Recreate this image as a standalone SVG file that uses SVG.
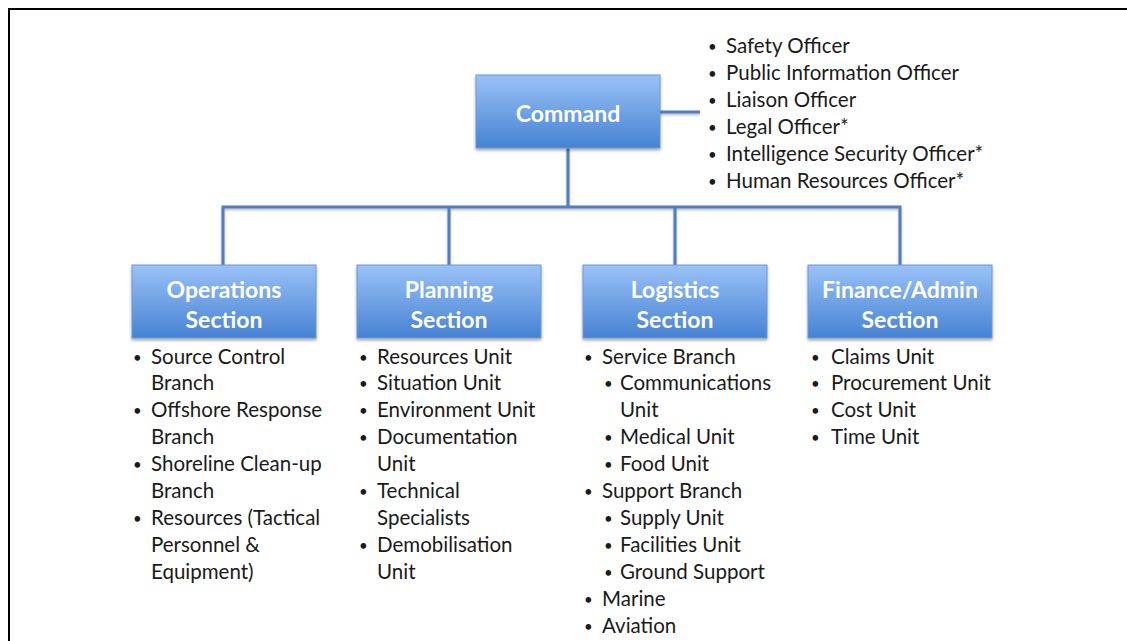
<svg xmlns="http://www.w3.org/2000/svg" width="1127" height="641" viewBox="0 0 1127 641">
  <defs>
    <linearGradient id="boxFill" x1="0" y1="0" x2="0" y2="1">
      <stop offset="0" stop-color="#9ac2f7"/>
      <stop offset="1" stop-color="#4682d3"/>
    </linearGradient>
    <filter id="shadow" x="-10%" y="-10%" width="120%" height="130%">
      <feDropShadow dx="0" dy="2" stdDeviation="1.5" flood-color="#000" flood-opacity="0.35"/>
    </filter>
    <filter id="lineShadow" filterUnits="userSpaceOnUse" x="0" y="0" width="1127" height="641">
      <feDropShadow dx="0" dy="1.5" stdDeviation="1" flood-color="#000" flood-opacity="0.3"/>
    </filter>
  </defs>
  <style>
    .box { fill: url(#boxFill); stroke: #6d9ad6; stroke-width: 1; filter: url(#shadow); }
    .title { font-family: Lato, "Open Sans", sans-serif; font-weight: bold; font-size: 23px; fill: #ffffff; text-anchor: middle; }
    .item { font-family: Lato, "Open Sans", sans-serif; font-size: 20.5px; fill: #1a1a1a; }
    .bul { font-size: 15px; }
    .conn { fill: none; stroke: #4f7fbf; stroke-width: 3; }
  </style>

  <rect width="1127" height="641" fill="#ffffff"/>
  <!-- page frame -->
  <path d="M9 641 V9 H1127" fill="none" stroke="#000" stroke-width="2"/>

  <g id="connectors" filter="url(#lineShadow)">
    <path class="conn" d="M660 112 H700"/>
    <path class="conn" d="M568 148 V207"/>
    <path class="conn" d="M223 265 V207 H900 V265"/>
    <path class="conn" d="M449 207 V265"/>
    <path class="conn" d="M675 207 V265"/>
  </g>

  <g id="command">
    <rect class="box" x="476" y="75" width="184" height="73"/>
    <text class="title" x="568" y="122">Command</text>
  </g>

  <g id="command-staff" class="item">
    <text class="bul" x="708" y="52">•</text><text x="726" y="53">Safety Officer</text>
    <text class="bul" x="708" y="79">•</text><text x="726" y="80">Public Information Officer</text>
    <text class="bul" x="708" y="106">•</text><text x="726" y="107">Liaison Officer</text>
    <text class="bul" x="708" y="133">•</text><text x="726" y="134">Legal Officer*</text>
    <text class="bul" x="708" y="160">•</text><text x="726" y="161">Intelligence Security Officer*</text>
    <text class="bul" x="708" y="187">•</text><text x="726" y="188">Human Resources Officer*</text>
  </g>

  <g id="operations">
    <rect class="box" x="132" y="265" width="184" height="73"/>
    <text class="title" x="224" y="298">Operations</text>
    <text class="title" x="224" y="328">Section</text>
    <g class="item">
      <text class="bul" x="133" y="363">•</text><text x="151" y="364">Source Control</text>
      <text x="151" y="390">Branch</text>
      <text class="bul" x="133" y="416">•</text><text x="151" y="417">Offshore Response</text>
      <text x="151" y="444">Branch</text>
      <text class="bul" x="133" y="470">•</text><text x="151" y="471">Shoreline Clean-up</text>
      <text x="151" y="498">Branch</text>
      <text class="bul" x="133" y="524">•</text><text x="151" y="525">Resources (Tactical</text>
      <text x="151" y="552">Personnel &amp;</text>
      <text x="151" y="579">Equipment)</text>
    </g>
  </g>

  <g id="planning">
    <rect class="box" x="357" y="265" width="184" height="73"/>
    <text class="title" x="449" y="298">Planning</text>
    <text class="title" x="449" y="328">Section</text>
    <g class="item">
      <text class="bul" x="359" y="363">•</text><text x="377" y="364">Resources Unit</text>
      <text class="bul" x="359" y="389">•</text><text x="377" y="390">Situation Unit</text>
      <text class="bul" x="359" y="416">•</text><text x="377" y="417">Environment Unit</text>
      <text class="bul" x="359" y="443">•</text><text x="377" y="444">Documentation</text>
      <text x="377" y="471">Unit</text>
      <text class="bul" x="359" y="497">•</text><text x="377" y="498">Technical</text>
      <text x="377" y="525">Specialists</text>
      <text class="bul" x="359" y="551">•</text><text x="377" y="552">Demobilisation</text>
      <text x="377" y="579">Unit</text>
    </g>
  </g>

  <g id="logistics">
    <rect class="box" x="583" y="265" width="184" height="73"/>
    <text class="title" x="675" y="298">Logistics</text>
    <text class="title" x="675" y="328">Section</text>
    <g class="item">
      <text class="bul" x="584" y="363">•</text><text x="602" y="364">Service Branch</text>
      <text class="bul" x="604" y="389">•</text><text x="620" y="390">Communications</text>
      <text x="620" y="417">Unit</text>
      <text class="bul" x="604" y="443">•</text><text x="620" y="444">Medical Unit</text>
      <text class="bul" x="604" y="470">•</text><text x="620" y="471">Food Unit</text>
      <text class="bul" x="584" y="497">•</text><text x="602" y="498">Support Branch</text>
      <text class="bul" x="604" y="524">•</text><text x="620" y="525">Supply Unit</text>
      <text class="bul" x="604" y="551">•</text><text x="620" y="552">Facilities Unit</text>
      <text class="bul" x="604" y="578">•</text><text x="620" y="579">Ground Support</text>
      <text class="bul" x="584" y="605">•</text><text x="602" y="606">Marine</text>
      <text class="bul" x="584" y="632">•</text><text x="602" y="633">Aviation</text>
    </g>
  </g>

  <g id="finance-admin">
    <rect class="box" x="808" y="265" width="184" height="73"/>
    <text class="title" x="900" y="298">Finance/Admin</text>
    <text class="title" x="900" y="328">Section</text>
    <g class="item">
      <text class="bul" x="811" y="363">•</text><text x="831" y="364">Claims Unit</text>
      <text class="bul" x="811" y="389">•</text><text x="831" y="390">Procurement Unit</text>
      <text class="bul" x="811" y="416">•</text><text x="831" y="417">Cost Unit</text>
      <text class="bul" x="811" y="443">•</text><text x="831" y="444">Time Unit</text>
    </g>
  </g>
</svg>
